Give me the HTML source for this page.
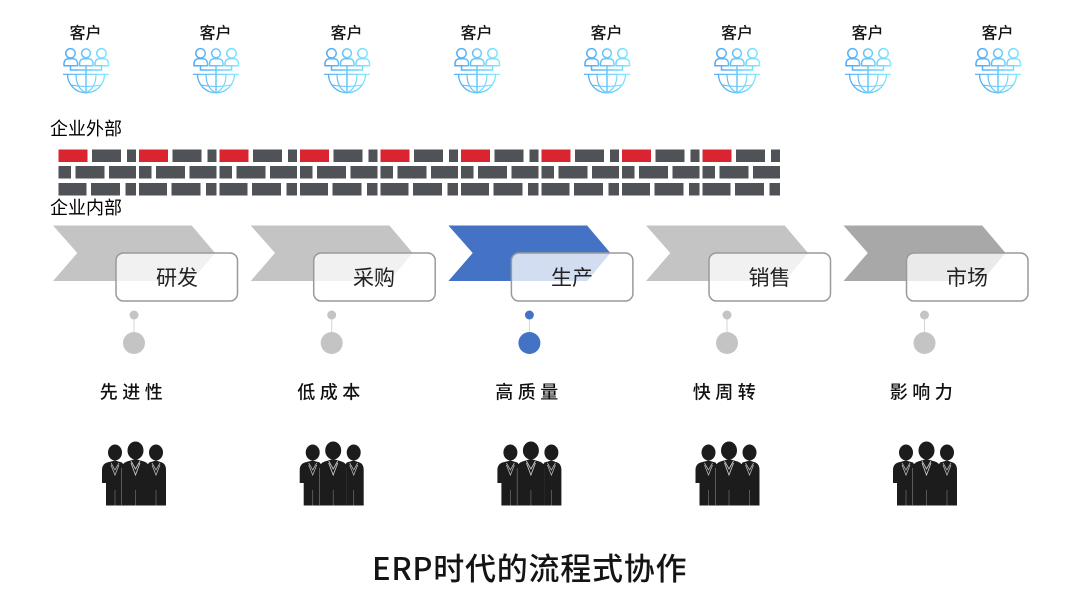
<!DOCTYPE html>
<html><head><meta charset="utf-8">
<style>
html,body{margin:0;padding:0;background:#fff}
svg{display:block}
text{font-family:"Noto Sans CJK SC","WenQuanYi Zen Hei",sans-serif;fill:#141414;font-weight:500}
.c{font-size:16px;text-anchor:middle}
.z{font-size:18px;font-weight:400;fill:#000}
.b{font-size:21px;text-anchor:middle;fill:#222;font-weight:400}
.l{font-size:18px;text-anchor:middle;letter-spacing:4.500px;font-weight:500;fill:#111}
</style></head><body>
<svg width="1080" height="602" viewBox="0 0 1080 602" xmlns="http://www.w3.org/2000/svg">
<defs>
<linearGradient id="g" gradientUnits="userSpaceOnUse" x1="63" y1="0" x2="109" y2="0"><stop offset="0" stop-color="#4ea6f5"/><stop offset="1" stop-color="#7eeaff"/></linearGradient>
<g id="icon" fill="none" stroke="url(#g)" stroke-width="1.500">
<circle cx="70.500" cy="53.300" r="4.700"/><circle cx="86" cy="53.300" r="4.400"/><circle cx="101.500" cy="53.300" r="4.700"/>
<path d="M64 65.700v-2.500a4.500 4.500 0 0 1 4.500-4.500h4.500a4.500 4.500 0 0 1 4.500 4.500v2.500z" stroke-linejoin="round"/>
<path d="M79.500 65.700v-2.500a4.500 4.500 0 0 1 4.500-4.500h4.500a4.500 4.500 0 0 1 4.500 4.500v2.500z" stroke-linejoin="round"/>
<path d="M95 65.700v-2.500a4.500 4.500 0 0 1 4.500-4.500h4.500a4.500 4.500 0 0 1 4.500 4.500v2.500z" stroke-linejoin="round"/>
<path d="M70.500 66v4h31v-4M86 66v26.500"/>
<path d="M63 74.300h46" stroke-width="1.200"/>
<path d="M67.500 74.300a18.500 18.500 0 0 0 37 0" stroke-width="1.300"/>
<path d="M76 74.300q0 14 10 18.500q10-4.500 10-18.500" stroke-width="1.100"/>
<path d="M71 85q15 3 30 0" stroke-width="1.100"/>
</g>
<g id="u1"><rect x="92" y="149.500" width="29" height="12.500" fill="#4f5257"/><rect x="127" y="149.500" width="9" height="12.500" fill="#4f5257"/><rect x="58.500" y="149.500" width="29" height="12.500" fill="#da2430"/></g>
<g id="u2" fill="#4f5257"><rect x="58.500" y="166" width="12.500" height="12.500"/><rect x="75.500" y="166" width="29" height="12.500"/><rect x="109" y="166" width="27" height="12.500"/></g>
<g id="u3" fill="#4f5257"><rect x="58.500" y="183" width="28" height="12.500"/><rect x="91" y="183" width="29" height="12.500"/><rect x="125.500" y="183" width="10.500" height="12.500"/></g>
<g id="men" fill="#1c1c1c">
<ellipse cx="115" cy="452.500" rx="7" ry="8"/>
<path d="M102 483V470q0-6 5-7.500l8-2 7 2 2 3V505.500H106V483z"/>
<ellipse cx="156" cy="452.500" rx="7" ry="8"/>
<path d="M147 466l2-3.500 7-2 6 2q4 1.500 4 7.500v35.500H147z"/>
<path d="M122 468V505M148.500 468V505" stroke="#9a9a9a" stroke-width="1"/>
<ellipse cx="135.500" cy="450.500" rx="8" ry="9"/>
<path d="M122 505.500V468q0-5 5-6.500l8.500-2.500 8.500 2.500q5 1.500 5 6.500v37.500z"/>
<path d="M131 461l4.500 8 4.500-8M131 463l4.500 12 4.500-12" fill="none" stroke="#c8c8c8" stroke-width=".9"/>
<path d="M111 463l4 7 4-7M111 465l4 10 4-10" fill="none" stroke="#b4b4b4" stroke-width=".8"/>
<path d="M152 463l4 7 4-7M152 465l4 10 4-10" fill="none" stroke="#b4b4b4" stroke-width=".8"/>
<path d="M115 490V505.500M135.500 490V505.500M156 490V505.500" stroke="#6f6f6f" stroke-width=".7"/>
</g>
<g id="dots"><path d="M134 315V343" stroke="#d5d5d5" stroke-width="1"/><circle cx="134" cy="315" r="4.500"/><circle cx="134" cy="343" r="11"/></g>
<path id="chev" d="M53 225.500H191.700L215 253 191.700 281H53L77.300 253z"/>
<rect id="box" x="116" y="253" width="121.500" height="48" rx="7.500" fill="#fff" fill-opacity=".76" stroke="#9a9a9a" stroke-width="1.500"/>
</defs>

<text class="c" x="85.500" y="38.500">客户</text><text class="c" x="215.500" y="38.500">客户</text><text class="c" x="346.500" y="38.500">客户</text><text class="c" x="476.500" y="38.500">客户</text><text class="c" x="606.500" y="38.500">客户</text><text class="c" x="737" y="38.500">客户</text><text class="c" x="867.500" y="38.500">客户</text><text class="c" x="997.500" y="38.500">客户</text>
<use href="#icon"/><use href="#icon" x="130"/><use href="#icon" x="261"/><use href="#icon" x="391"/><use href="#icon" x="521"/><use href="#icon" x="651"/><use href="#icon" x="782"/><use href="#icon" x="912"/>

<text class="z" x="50" y="135">企业外部</text>
<text class="z" x="50" y="214">企业内部</text>

<use href="#u1"/><use href="#u1" x="80.500"/><use href="#u1" x="161"/><use href="#u1" x="241.500"/><use href="#u1" x="322"/><use href="#u1" x="402.500"/><use href="#u1" x="483"/><use href="#u1" x="563.500"/><use href="#u1" x="644"/>
<use href="#u2"/><use href="#u2" x="80.500"/><use href="#u2" x="161"/><use href="#u2" x="241.500"/><use href="#u2" x="322"/><use href="#u2" x="402.500"/><use href="#u2" x="483"/><use href="#u2" x="563.500"/><use href="#u2" x="644"/>
<use href="#u3"/><use href="#u3" x="80.500"/><use href="#u3" x="161"/><use href="#u3" x="241.500"/><use href="#u3" x="322"/><use href="#u3" x="402.500"/><use href="#u3" x="483"/><use href="#u3" x="563.500"/><use href="#u3" x="644"/>

<use href="#chev" fill="#c4c4c4"/>
<use href="#chev" x="197.700" fill="#c4c4c4"/>
<use href="#chev" x="395.400" fill="#4472c4"/>
<use href="#chev" x="593" fill="#c4c4c4"/>
<use href="#chev" x="790.500" fill="#a8a8a8"/>

<use href="#box"/><use href="#box" x="197.700"/><use href="#box" x="395.400"/><use href="#box" x="593"/><use href="#box" x="790.500"/>

<text class="b" x="177" y="285">研发</text>
<text class="b" x="374" y="285">采购</text>
<text class="b" x="572" y="285">生产</text>
<text class="b" x="769.500" y="285">销售</text>
<text class="b" x="967" y="285">市场</text>

<use href="#dots" fill="#c4c4c4"/>
<use href="#dots" x="197.700" fill="#c4c4c4"/>
<use href="#dots" x="395.400" fill="#4472c4"/>
<use href="#dots" x="593" fill="#c4c4c4"/>
<use href="#dots" x="790.500" fill="#c4c4c4"/>

<text class="l" x="133.500" y="398.500">先进性</text>
<text class="l" x="331" y="398.500">低成本</text>
<text class="l" x="529" y="398.500">高质量</text>
<text class="l" x="726.500" y="398.500">快周转</text>
<text class="l" x="923.500" y="398.500">影响力</text>

<use href="#men"/><use href="#men" x="197.700"/><use href="#men" x="395.400"/><use href="#men" x="593.500"/><use href="#men" x="791"/>

<text x="372" y="580" style="font-size:31px;letter-spacing:.750px">ERP时代的流程式协作</text>
</svg>
</body></html>
